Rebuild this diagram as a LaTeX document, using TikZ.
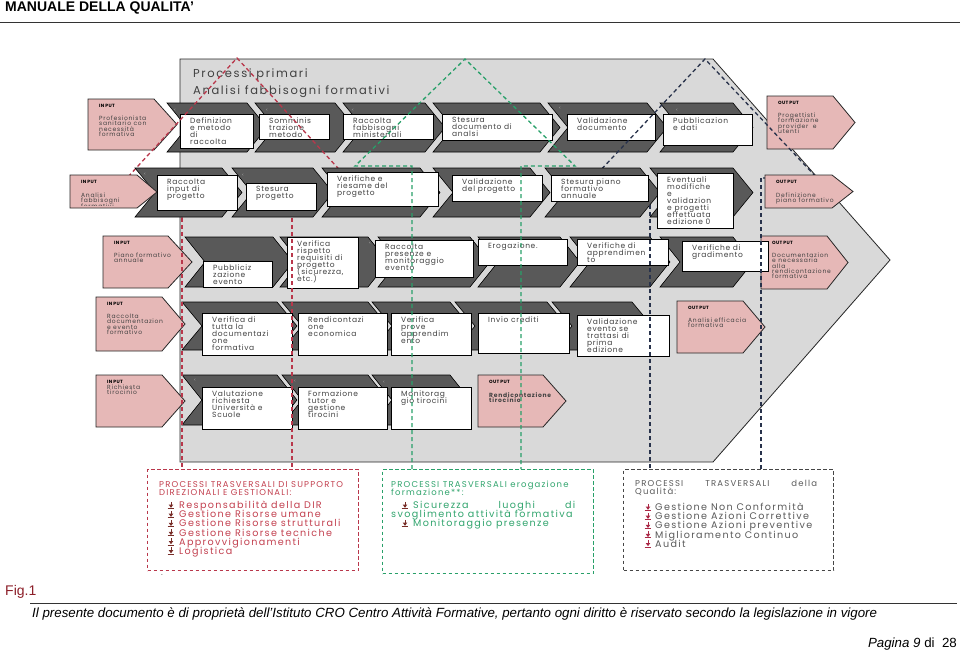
\documentclass[tikz,border=0pt]{standalone}
\usepackage{fontspec}
\newfontfamily\fntbox{Poppins}[LetterSpace=9]
\newfontfamily\fntpink{Poppins}[LetterSpace=12]
\newfontfamily\fntlab{Poppins}[LetterSpace=5]
\newfontfamily\fntwide{Poppins}[LetterSpace=14]
\newfontfamily\fntarial{Liberation Sans}
\lineskiplimit=-100pt
\usetikzlibrary{calc}
\definecolor{bggray}{RGB}{217,217,217}
\definecolor{chevgray}{RGB}{89,89,89}
\definecolor{pinkf}{RGB}{230,184,183}
\definecolor{txtg}{RGB}{64,64,64}
\definecolor{dred}{RGB}{185,55,75}
\definecolor{dgreen}{RGB}{40,160,105}
\definecolor{dblue}{RGB}{40,50,75}
\definecolor{dgray}{RGB}{70,70,70}
\definecolor{redtxt}{RGB}{195,65,80}
\definecolor{grntxt}{RGB}{50,165,110}
\definecolor{graytxt}{RGB}{90,90,90}
\definecolor{figred}{RGB}{140,30,40}
\definecolor{icored}{RGB}{120,45,40}
\definecolor{icogray}{RGB}{170,40,70}
\tikzset{
  chevsty/.style={fill=chevgray, draw=black, line width=0.6pt},
  wboxsty/.style={fill=white, draw=black, line width=0.9pt, inner sep=0pt, outer sep=0pt},
  pinksty/.style={fill=pinkf, draw=black!85, line width=0.8pt},
  btext/.style={font=\fntbox\fontsize{7.5}{7}\selectfont, text=txtg, inner sep=0pt, align=left, anchor=north west},
  ptitle/.style={font=\fntlab\bfseries\fontsize{4.6}{5}\selectfont, text=black, inner sep=0pt, anchor=north west},
  ptext/.style={font=\fntpink\fontsize{6}{5.2}\selectfont, text=txtg, inner sep=0pt, align=left, anchor=north west},
  ltmark/.style={font=\fntlab\fontsize{4}{4}\selectfont, text=gray!60, inner sep=0pt},
  titlef/.style={font=\fntwide\fontsize{11.5}{13}\selectfont, text=txtg, inner sep=0pt, anchor=base west},
  bhead/.style={font=\fntwide\fontsize{8.5}{8.3}\selectfont, inner sep=0pt, align=left, anchor=north west},
  bitem/.style={font=\fntwide\fontsize{9.6}{9.1}\selectfont, inner sep=0pt, align=left, anchor=north west},
  reddash/.style={draw=dred, line width=1.3pt, dash pattern=on 4pt off 3pt},
  grndash/.style={draw=dgreen, line width=1.3pt, dash pattern=on 4pt off 3pt},
  bludash/.style={draw=dblue, line width=1.3pt, dash pattern=on 4pt off 3pt},
  redframe/.style={draw=dred, line width=1.3pt, dash pattern=on 3.5pt off 2.5pt, inner sep=0pt, anchor=north west},
  grnframe/.style={draw=dgreen, line width=1.3pt, dash pattern=on 3.5pt off 2.5pt, inner sep=0pt, anchor=north west},
  gryframe/.style={draw=dgray, line width=1.3pt, dash pattern=on 3.5pt off 2.5pt, inner sep=0pt, anchor=north west},
}
\newcommand\chev[4]{%
  \draw[chevsty] (#1,#3) -- (#2,#3) -- ({#2+20},{(#3+#4)/2}) -- (#2,#4) -- (#1,#4) -- ({#1+20},{(#3+#4)/2}) -- cycle;}
\newcommand\wbox[6]{%
  \node[wboxsty, anchor=north west, minimum width={(#4-#2)*1pt}, minimum height={(#5-#3)*1pt}] (#1) at (#2,#3) {};
  \begin{scope}
    \clip (#2,#3) rectangle (#4,{#5-1});
    \node[btext] (#1t) at ({#2+10},{#3+3.5}) {#6};
  \end{scope}}
\newcommand\pbox[9]{%
  \draw[pinksty] (#2,#3) -- (#4,#3) -- (#5,{(#3+#6)/2}) -- (#4,#6) -- (#2,#6) -- cycle;
  \node[ptitle] (#1) at ({#2+11},{#3+5}) {#7};
  \node[ptext] (#1t) at ({#2+11},{#3+#9}) {#8};}
\newcommand\bic[3]{%
  \draw[#3, line width=0.8pt] (#1,{#2-3.6}) -- (#1,{#2-0.5});
  \fill[#3] ({#1-2.3},{#2-0.9}) -- ({#1+2.3},{#2-0.9}) -- (#1,{#2+2.3}) -- cycle;
  \draw[#3, line width=0.8pt] ({#1-3.3},{#2+3}) -- ({#1+3.3},{#2+3});}
\begin{document}
\begin{tikzpicture}[x=1pt,y=-1pt]
\useasboundingbox (0,0) rectangle (960,653);
\fill[white] (0,0) rectangle (960,653);

% header
\node[font=\fntarial\bfseries\fontsize{14}{16}\selectfont, anchor=base west, inner sep=0pt] (hdr) at (5,12) {MANUALE DELLA QUALITA’};
\draw[line width=1pt, black!80] (0,22) -- (960,22);

% main gray area
\draw[fill=bggray, draw=black!85, line width=0.8pt] (180,59) -- (713,59) -- (890,260) -- (713,462) -- (180,462) -- cycle;
\node[titlef] (t1) at (193,77) {Processi primari};
\node[titlef] (t2) at (193,94) {Analisi fabbisogni formativi};

% connector coordinates
\coordinate (rA) at (237,58);
\coordinate (rL) at (116,190);
\coordinate (rLc) at (182,190);
\coordinate (rR) at (358,190);
\coordinate (rRc) at (292,190);
\coordinate (rv1) at (182,218);
\coordinate (rv2) at (292,218);
\coordinate (gA) at (465,59);
\coordinate (gL) at (355,166);
\coordinate (gLc) at (412,166);
\coordinate (gR) at (575,166);
\coordinate (gRc) at (521,166);
\coordinate (bA) at (705,59);
\coordinate (bL) at (582,190);
\coordinate (bLc) at (650,190);
\coordinate (bv1) at (650,205);
\coordinate (bR) at (817,178);
\coordinate (bRc) at (761,178);

% ---------- row 1
\chev{167}{247}{103}{152}
\chev{255}{335}{103}{152}
\chev{343}{425}{103}{152}
\chev{433}{540}{103}{152}
\chev{548}{647}{103}{152}
\chev{660}{733}{103}{152}
\pbox{in1}{88}{99}{154}{177}{150}{IN PUT}{Profesionista\\sanitario con\\necessità\\formativa}{17}
\pbox{out1}{767}{96}{833}{855}{149}{OUT PUT}{Progettisti\\formazione\\provider\ \ e\\utenti}{17}
\wbox{a1}{180}{114}{253}{148}{Definizion\\e metodo\\di\\raccolta}
\wbox{a2}{259}{114}{329}{139}{Somminis\\trazione\\metodo}
\wbox{a3}{343}{114}{433}{139}{Raccolta\\fabbisogni\\ministeriali}
\wbox{a4}{442}{114}{552}{140}{Stesura\\documento di\\analsi}
\wbox{a5}{567}{114}{655}{140}{Validazione\\documento}
\wbox{a6}{663}{114}{752}{145}{Pubblicazion\\e dati}

% red and blue upper connectors (partly hidden by row 2)
\draw[reddash] (rv1) -- (rLc) -- (rL) -- (rA) -- (rR) -- (rRc) -- (rv2);
\draw[bludash] (bv1) -- (bLc) -- (bL) -- (bA) -- (bR) -- (bRc);

% ---------- row 2
\chev{135}{222}{168}{217}
\chev{232}{313}{168}{217}
\chev{322}{420}{168}{217}
\chev{433}{530}{168}{217}
\chev{545}{640}{168}{217}
\chev{650}{733}{168}{217}
\draw[pinksty] (70,175) -- (137,175) -- (157,192) -- (137,208) -- (70,208) -- cycle;
\node[ptitle] (in2) at (81,180) {IN PUT};
\begin{scope}
  \clip (70,175) rectangle (157,205.5);
  \node[ptext] (in2t) at (81,193) {Analisi\\fabbisogni\\formativi};
\end{scope}
\pbox{out2}{765}{175}{832}{853}{208}{OUT PUT}{Definizione\\piano formativo}{18}
\wbox{b1}{157}{175}{237}{210}{Raccolta\\input di\\progetto}
\wbox{b2}{246}{183}{316}{210}{Stesura\\progetto}
\wbox{b3}{327}{172}{438}{206}{Verifiche e\\riesame del\\progetto}
\wbox{b4}{452}{175}{542}{201}{Validazione\\del progetto}
\wbox{b5}{551}{175}{648}{201}{Stesura piano\\formativo\\annuale}
\wbox{b6}{657}{173}{733}{228}{Eventuali\\modifiche\\e\\validazion\\e progetti\\effettuata\\edizione 0}

% ---------- row 3
\chev{185}{273}{237}{287}
\chev{280}{368}{237}{287}
\chev{378}{470}{237}{287}
\chev{478}{560}{237}{287}
\chev{570}{650}{237}{287}
\chev{660}{733}{237}{287}
\pbox{in3}{103}{236}{168}{192}{288}{IN PUT}{Piano formativo\\annuale}{17}
\pbox{out3}{761}{236}{827}{848}{289}{OUT PUT}{Documentazion\\e necessaria\\alla\\rendicontazione\\formativa}{17}
\wbox{c1}{203}{261}{272}{287}{Pubbliciz\\zazione\\evento}
\wbox{c2}{287}{237}{358}{288}{Verifica\\rispetto\\requisiti di\\progetto\\(sicurezza,\\etc.)}
\wbox{c3}{375}{240}{473}{277}{Raccolta\\presenze e\\monitoraggio\\evento}
\wbox{c4}{478}{239}{567}{265}{Erogazione.}
\wbox{c5}{577}{239}{668}{265}{Verifiche di\\apprendimen\\to}
\wbox{c6}{682}{241}{768}{271}{Verifiche di\\gradimento}

% ---------- row 4
\chev{182}{277}{302}{350}
\chev{282}{368}{302}{350}
\chev{372}{450}{302}{350}
\chev{455}{547}{302}{350}
\chev{552}{632}{302}{350}
\pbox{in4}{96}{297}{162}{185}{351}{IN PUT}{Raccolta\\documentazion\\e evento\\formativo}{17}
\pbox{out4}{677}{301}{743}{765}{353}{OUT PUT}{Analisi efficacia\\formativa}{17}
\wbox{d1}{202}{313}{292}{355}{Verifica di\\tutta la\\documentazi\\one\\formativa}
\wbox{d2}{298}{313}{387}{355}{Rendicontazi\\one\\economica}
\wbox{d3}{391}{313}{471}{355}{Verifica\\prove\\apprendim\\ento}
\wbox{d4}{478}{313}{569}{353}{Invio crediti}
\wbox{d5}{577}{315}{669}{356}{Validazione\\evento se\\trattasi di\\prima\\edizione}

% ---------- row 5
\chev{182}{277}{375}{425}
\chev{282}{368}{375}{425}
\chev{372}{450}{375}{425}
\pbox{in5}{96}{375}{162}{185}{427}{IN PUT}{Richiesta\\tirocinio}{10}
\pbox{out5}{478}{375}{543}{566}{427}{OUT PUT}{\bfseries Rendicontazione\\\bfseries tirocinio}{17}
\wbox{e1}{202}{387}{292}{429}{Valutazione\\richiesta\\Università e\\Scuole}
\wbox{e2}{298}{387}{387}{429}{Formazione\\tutor e\\gestione\\tirocini}
\wbox{e3}{391}{387}{471}{429}{Monitorag\\gio tirocini}

% small marks on the chevrons
\foreach \x/\y [count=\i] in {175/110, 267/110, 353/110, 560/108, 677/110, 145/174, 243/175, 370/243, 195/380, 295/381, 384/382}
  {\node[ltmark] (lt\i) at (\x,\y) {<};}

% ---------- bottom boxes
\node[redframe, minimum width=211pt, minimum height=101pt] (redbox) at (147,469) {};
\node[grnframe, minimum width=211pt, minimum height=104pt] (grnbox) at (382,469) {};
\node[gryframe, minimum width=210pt, minimum height=101pt] (grybox) at (623,469) {};

% connectors on top
\draw[reddash] (rv1) -- (redbox.north -| rv1);
\draw[reddash] (rv2) -- (redbox.north -| rv2);
\draw[grndash] (grnbox.north -| gLc) -- (gLc) -- (gL) -- (gA) -- (gR) -- (gRc) -- (grnbox.north -| gRc);
\draw[bludash] (bv1) -- (grybox.north -| bv1);
\draw[bludash] (bRc) -- (grybox.north -| bRc);

% red box text
\node[bhead, text=redtxt] (rh) at (159,481) {PROCESSI TRASVERSALI DI SUPPORTO\\DIREZIONALI E GESTIONALI:};
\node[bitem, text=redtxt] (ri) at (179,501) {Responsabilità della DIR\\Gestione Risorse umane\\Gestione Risorse strutturali\\Gestione Risorse tecniche\\Approvvigionamenti\\Logistica};
\foreach \k in {0,...,5} {\bic{171}{505.5+9.1*\k}{icored}}

% green box text
\node[bhead, text=grntxt] (gh) at (391,481) {PROCESSI TRASVERSALI erogazione\\formazione**:};
\node[bitem, text=grntxt] (gi1) at (413,501) {\hbox to 162pt{Sicurezza\hfill luoghi\hfill di}};
\node[bitem, text=grntxt] (gi2) at (391,510) {svoglimento attività formativa};
\node[bitem, text=grntxt] (gi3) at (413,519) {Monitoraggio presenze};
\bic{405}{505.5}{icored}
\bic{405}{523.5}{icored}

% gray box text
\node[bhead, text=graytxt] (qh) at (635,480) {\hbox to 182pt{PROCESSI\hfill TRASVERSALI\hfill della}\\Qualità:};
\node[bitem, text=graytxt] (qi) at (655,503) {Gestione Non Conformità\\Gestione Azioni Correttive\\Gestione Azioni preventive\\Miglioramento Continuo\\Audit};
\foreach \k in {0,...,4} {\bic{648}{507.5+9.1*\k}{icogray}}

\node[font=\fntarial\fontsize{8}{8}\selectfont, text=black!70, inner sep=0pt] (dot) at (162,575) {.};

% footer
\node[font=\fntarial\fontsize{14}{16}\selectfont, text=figred, anchor=base west, inner sep=0pt] (fig) at (5,595) {Fig.1};
\draw[line width=0.9pt, black!80] (30,603) -- (957,603);
\node[font=\fntarial\itshape\fontsize{13.3}{15}\selectfont, anchor=base west, inner sep=0pt] (foot) at (32,617) {Il presente documento è di proprietà dell’Istituto CRO Centro Attività Formative, pertanto ogni diritto è riservato secondo la legislazione in vigore};
\node[font=\fntarial\fontsize{13.3}{15}\selectfont, anchor=base east, inner sep=0pt] (pg) at (957,647) {\textit{Pagina 9} di\ \ 28};
\end{tikzpicture}
\end{document}
